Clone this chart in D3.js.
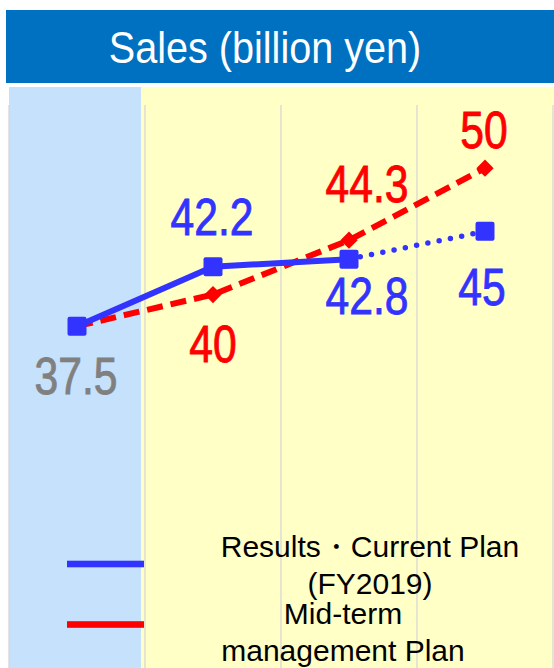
<!DOCTYPE html>
<html>
<head>
<meta charset="utf-8">
<script src="https://cdn.jsdelivr.net/npm/d3@7"></script>
<style>
  html, body { margin: 0; padding: 0; background: #fff; }
  svg { display: block; }
</style>
</head>
<body>
<svg id="chart" width="554" height="668"></svg>
<script>
// data
const years = ['FY2018', 'FY2019', 'FY2020', 'FY2021'];
const results = [37.5, 42.2, 42.8, 45];      // results / current plan
const midterm = [37.5, 40, 44.3, 50];         // mid-term management plan
const resultLabels = ['37.5', '42.2', '42.8', '45'];
const midtermLabels = ['', '40', '44.3', '50'];
const legendNames = [['Results・Current Plan', '(FY2019)'], ['Mid-term', 'management Plan']];

// label placement (dx, baseline offset from point)
const resultLabelOff = [[-1, 68], [-1, -32], [18, 55], [-3, 74]];
const midtermLabelOff = [[0, 0], [0, 67], [18, -38], [-1, -20]];

const W = 554, H = 668;
const svg = d3.select('#chart');

const x = d3.scaleBand().domain(years).range([9, 553]);
const y = d3.scaleLinear().domain([0, 55]).range([800, 105]);
const cx = d => x(d) + x.bandwidth() / 2;

// title bar
svg.append('rect').attr('x', 6).attr('y', 10).attr('width', W).attr('height', 73).attr('fill', '#0070C0');
svg.append('text')
  .attr('transform', 'translate(265,63) scale(0.88,1)')
  .attr('text-anchor', 'middle')
  .attr('font-family', 'Liberation Sans, Arial, sans-serif')
  .attr('font-size', 45)
  .attr('fill', '#fff')
  .text('Sales (billion yen)');

// backgrounds
svg.append('rect').attr('x', 141).attr('y', 87).attr('width', W - 141).attr('height', H - 87).attr('fill', '#FFFFC6');
svg.append('rect').attr('x', x(years[0])).attr('y', 87).attr('width', x.bandwidth() - 4).attr('height', H - 87).attr('fill', '#C5E1FC');

// vertical grid lines
const bounds = years.map(d => x(d)).concat([x(years[years.length - 1]) + x.bandwidth()]);
svg.append('g').selectAll('line').data(bounds).enter().append('line')
  .attr('x1', d => d).attr('x2', d => d)
  .attr('y1', y(55)).attr('y2', H)
  .attr('stroke', '#D3D3D9').attr('stroke-width', 1.2);

const line = d3.line().x((d, i) => cx(years[i])).y(d => y(d));
const lineDef = d3.line().x(d => cx(d.k)).y(d => y(d.v));

// mid-term plan, dashed red
svg.append('path')
  .attr('d', line(midterm))
  .attr('fill', 'none').attr('stroke', '#FF0000').attr('stroke-width', 6)
  .attr('stroke-dasharray', '16 8');

const diamond = d3.symbol().type(d3.symbolDiamond2).size(190);
svg.append('g').selectAll('path').data(midterm).enter().append('path')
  .attr('d', diamond)
  .attr('transform', (d, i) => `translate(${cx(years[i])},${y(d)})`)
  .attr('fill', '#FF0000');

// results: solid up to current year, dotted for plan
const solid = results.slice(0, 3).map((v, i) => ({ k: years[i], v }));
const dotted = results.slice(2).map((v, i) => ({ k: years[i + 2], v }));
svg.append('path').attr('d', lineDef(solid))
  .attr('fill', 'none').attr('stroke', '#3333FF').attr('stroke-width', 6);
svg.append('path').attr('d', lineDef(dotted))
  .attr('fill', 'none').attr('stroke', '#3333FF').attr('stroke-width', 5.5)
  .attr('stroke-linecap', 'round').attr('stroke-dasharray', '0 11.5');

svg.append('g').selectAll('rect').data(results).enter().append('rect')
  .attr('x', (d, i) => cx(years[i]) - 9.5).attr('y', d => y(d) - 9.5)
  .attr('width', 19).attr('height', 19).attr('rx', 2)
  .attr('fill', '#3333FF');

// value labels
function labels(vals, texts, offs, colorFn) {
  const items = vals.map((v, i) => ({ v, i })).filter(d => texts[d.i] !== '');
  svg.append('g').selectAll('text').data(items).enter().append('text')
    .attr('transform', d => `translate(${cx(years[d.i]) + offs[d.i][0]},${y(d.v) + offs[d.i][1]}) scale(0.82,1)`)
    .attr('text-anchor', 'middle')
    .attr('font-family', 'Liberation Sans, Arial, sans-serif')
    .attr('font-size', 52)
    .attr('fill', d => colorFn(d.i))
    .attr('stroke', d => colorFn(d.i))
    .attr('stroke-width', 0.9)
    .text(d => texts[d.i]);
}
labels(results, resultLabels, resultLabelOff, i => (i === 0 ? '#808080' : '#3333FF'));
labels(midterm, midtermLabels, midtermLabelOff, () => '#FF0000');

// legend
const legendColors = ['#3333FF', '#FF0000'];
const legendY = [564, 624.5];
const legendTextY = [557, 624];
const legendTextX = [370, 343];
legendNames.forEach((lines, i) => {
  svg.append('rect').attr('x', 67).attr('y', legendY[i] - 3.3).attr('width', 77).attr('height', 6.6)
    .attr('fill', legendColors[i]);
  const t = svg.append('text')
    .attr('text-anchor', 'middle')
    .attr('font-family', 'Liberation Sans, Arial, sans-serif')
    .attr('font-size', 30)
    .attr('fill', '#000');
  lines.forEach((s, k) => {
    t.append('tspan').attr('x', legendTextX[i]).attr('y', legendTextY[i] + k * 37).text(s);
  });
});
</script>
</body>
</html>
